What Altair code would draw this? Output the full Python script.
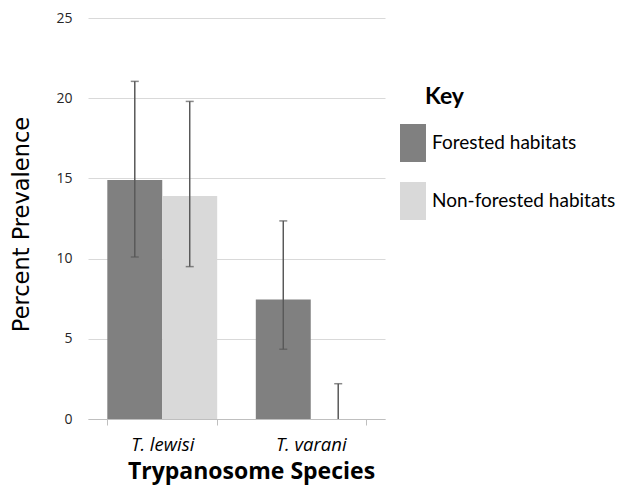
import altair as alt
import pandas as pd

species = ["T. lewisi", "T. varani"]
habitats = ["Forested habitats", "Non-forested habitats"]
forested = [14.9, 7.45]
nonforested = [13.9, 0.0]
forested_hi = [21.05, 12.35]
forested_lo = [10.1, 4.35]
nonforested_hi = [19.8, 2.2]
nonforested_lo = [9.5, 0.0]
colors = ["#808080", "#d9d9d9"]

rows = []
for i, s in enumerate(species):
    rows.append({"species": s, "habitat": habitats[0], "value": forested[i],
                 "hi": forested_hi[i], "lo": forested_lo[i]})
    rows.append({"species": s, "habitat": habitats[1], "value": nonforested[i],
                 "hi": nonforested_hi[i], "lo": nonforested_lo[i]})
df = pd.DataFrame(rows)

FONT = "Lato"
FONT2 = "Open Sans"
FONT3 = "DejaVu Sans"
rect_path = "M-0.684,-1H0.684V1H-0.684Z"

x_enc = alt.X("species:N", sort=species,
              scale=alt.Scale(paddingInner=0.26, paddingOuter=0.13),
              axis=alt.Axis(title="Trypanosome Species", tickBand="extent",
                            labelAngle=0, labelFontStyle="italic", labelFontSize=18.5,
                            labelFont=FONT2, labelColor="#000000", labelPadding=25,
                            labelBaseline="alphabetic",
                            tickSize=6, tickColor="#bfbfbf", domainColor="#bfbfbf",
                            titleFont=FONT2, titleFontSize=23, titleFontWeight="bold",
                            titleColor="#000000", titleX=163, titleY=59,
                            titleBaseline="alphabetic", grid=False))
y_enc = alt.Y("value:Q", scale=alt.Scale(domain=[0, 25], nice=False),
              axis=alt.Axis(title="Percent Prevalence", values=[0, 5, 10, 15, 20, 25],
                            domain=False, ticks=False, labelPadding=16,
                            labelFont=FONT2, labelFontSize=14, labelColor="#262626",
                            gridColor="#d9d9d9", gridWidth=1,
                            titleFont=FONT3, titleFontSize=22.5, titleFontWeight="normal",
                            titleColor="#000000", titleX=-59.5, titleY=206,
                            titleBaseline="alphabetic", titleAngle=-90))
xoff = alt.XOffset("habitat:N", sort=habitats,
                   scale=alt.Scale(paddingInner=0, paddingOuter=0))

base = alt.Chart(df)

bars = base.mark_bar().encode(
    x=x_enc, y=y_enc, xOffset=xoff,
    color=alt.Color("habitat:N", sort=habitats,
                    scale=alt.Scale(domain=habitats, range=colors),
                    legend=alt.Legend(title=None, orient="none", legendX=306, legendY=106,
                                      symbolType=rect_path, symbolSize=1444,
                                      symbolStrokeWidth=0, symbolOpacity=1,
                                      labelFont=FONT, labelFontSize=19, labelColor="#000000",
                                      labelLimit=0,
                                      rowPadding=20, labelOffset=0, padding=0)),
)

err = base.mark_rule(color="#595959", strokeWidth=1.5).encode(
    x=alt.X("species:N", sort=species), xOffset=xoff,
    y="hi:Q", y2="lo:Q",
)
cap_hi = base.mark_tick(color="#595959", thickness=1.5, size=8).encode(
    x=alt.X("species:N", sort=species), xOffset=xoff, y="hi:Q",
)
cap_lo = base.transform_filter("datum.lo > 0").mark_tick(
    color="#595959", thickness=1.5, size=8).encode(
    x=alt.X("species:N", sort=species), xOffset=xoff, y="lo:Q",
)

key = alt.Chart(pd.DataFrame({"t": ["Key"]})).mark_text(
    font=FONT, fontSize=23, fontWeight="bold", align="left", baseline="middle",
    color="#000000").encode(x=alt.value(337), y=alt.value(79), text="t:N")

chart = alt.layer(bars, err, cap_hi, cap_lo, key).properties(
    width=297, height=401,
    padding={"left": 80, "top": 10, "right": 234, "bottom": 66},
    autosize=alt.AutoSizeParams(type="none"),
).configure_view(stroke=None)

chart.save("out.html", embed_options={"renderer": "svg", "actions": False})
